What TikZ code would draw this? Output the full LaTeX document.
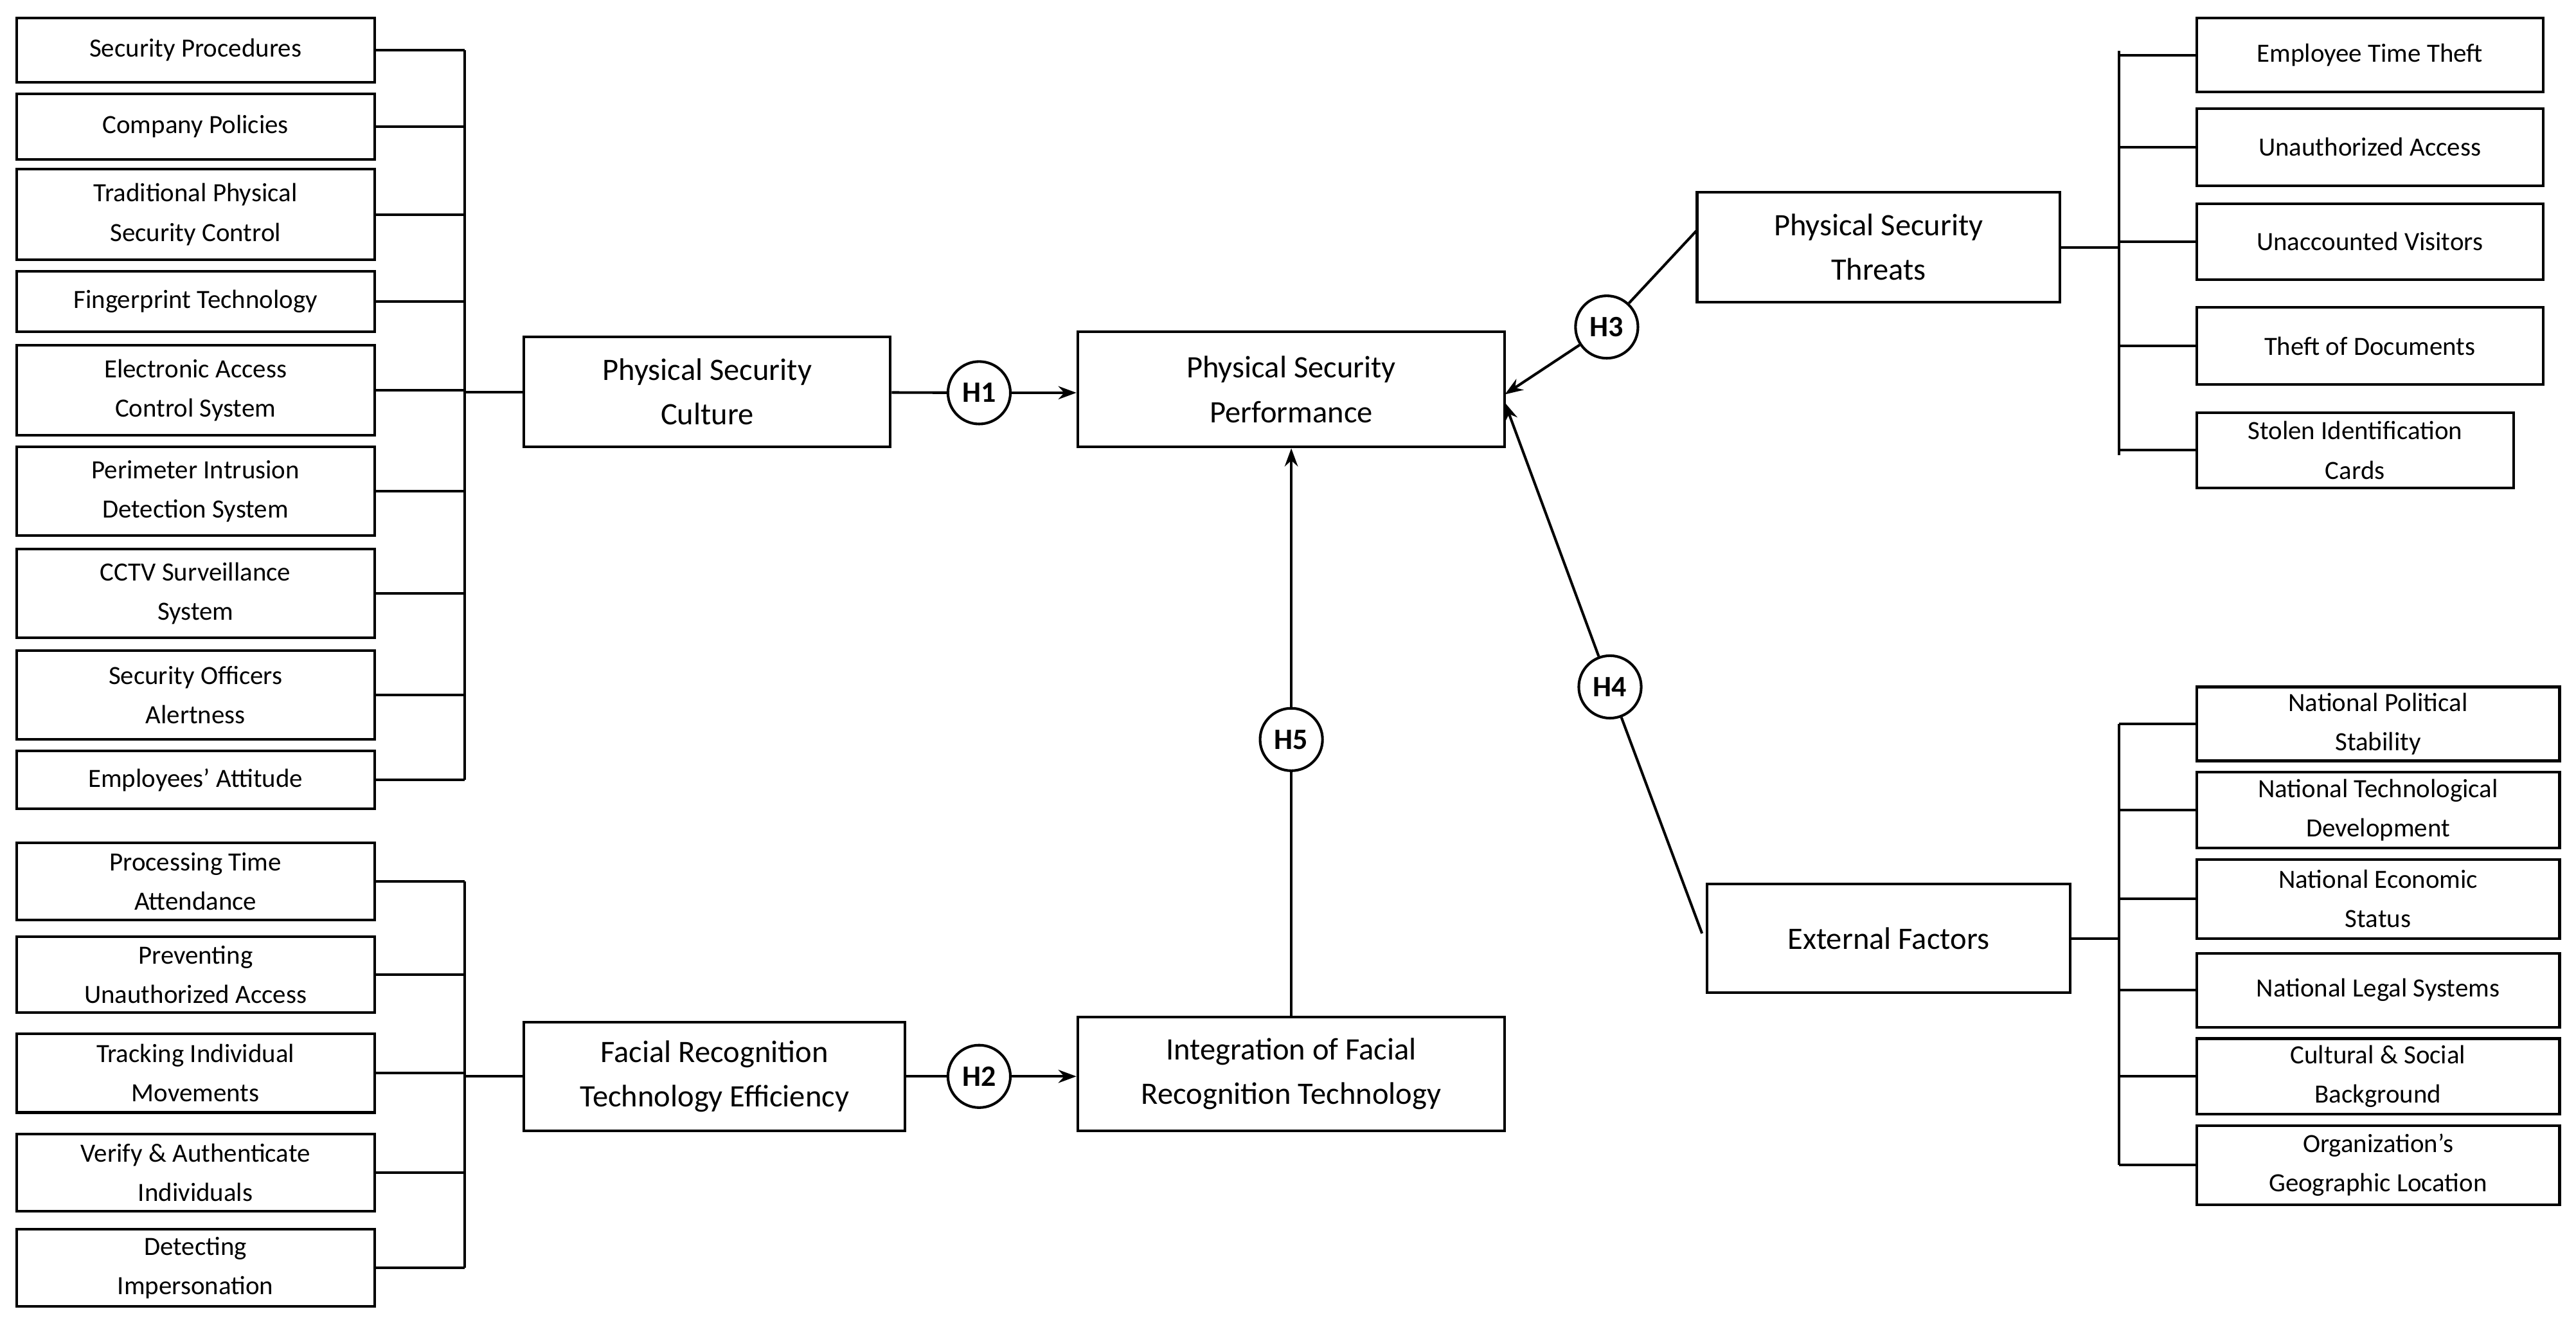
\documentclass[tikz,border=0pt]{standalone}
\usepackage{fontspec}
\setmainfont{Carlito}
\usetikzlibrary{arrows.meta}
\begin{document}
\begin{tikzpicture}[x=1pt,y=-1pt,line width=1.6pt,
  bx/.style={draw,align=center,inner sep=0pt,font=\fontsize{16}{24}\selectfont},
  big/.style={draw,align=center,inner sep=0pt,font=\fontsize{19}{27}\selectfont},
  hc/.style={draw,circle,minimum size=38pt,inner sep=0pt,font=\bfseries\fontsize{18}{20}\selectfont},
  arr/.style={-{Stealth[length=11pt,width=8pt]}}]
\useasboundingbox (0,0) rectangle (1568,806);
\newcommand\bx[7][bx]{\node[#1,minimum width={#5-#3},minimum height={#6-#4}] (#2) at ({(#3+#5)/2},{(#4+#6)/2}) {#7};}
% left top
\bx{a1}{10}{11}{228}{50}{Security Procedures}
\bx{a2}{10}{57}{228}{97}{Company Policies}
\bx{a3}{10}{103}{228}{158}{Traditional Physical\\Security Control}
\bx{a4}{10}{165}{228}{202}{Fingerprint Technology}
\bx{a5}{10}{210}{228}{265}{Electronic Access\\Control System}
\bx{a6}{10}{272}{228}{326}{Perimeter Intrusion\\Detection System}
\bx{a7}{10}{334}{228}{388}{CCTV Surveillance\\System}
\bx{a8}{10}{396}{228}{450}{Security Officers\\Alertness}
\bx{a9}{10}{457}{228}{492}{Employees’ Attitude}
\coordinate (ta) at (283,30.5);\coordinate (ba) at (283,474.5);
\draw (ta)--(ba);
\foreach \i in {1,...,9}{\draw (a\i.east)--(a\i.east -| ta);}
% left bottom
\bx{b1}{10}{513}{228}{560}{Processing Time\\Attendance}
\bx{b2}{10}{570}{228}{616}{Preventing\\Unauthorized Access}
\bx{b3}{10}{629}{228}{677}{Tracking Individual\\Movements}
\bx{b4}{10}{690}{228}{737}{Verify \& Authenticate\\Individuals}
\bx{b5}{10}{748}{228}{795}{Detecting\\Impersonation}
\coordinate (tb) at (283,536.5);\coordinate (bb) at (283,771.5);
\draw (tb)--(bb);
\foreach \i in {1,...,5}{\draw (b\i.east)--(b\i.east -| tb);}
% center
\bx[big]{psc}{319}{205}{542}{272}{Physical Security\\Culture}
\bx[big]{psp}{656}{202}{916}{272}{Physical Security\\Performance}
\bx[big]{fre}{319}{622}{551}{688}{Facial Recognition\\Technology  Efficiency}
\bx[big]{ifr}{656}{619}{916}{688}{Integration of Facial\\Recognition Technology}
\bx[big]{pst}{1033}{117}{1254}{184}{Physical Security\\Threats}
\bx[big]{ef}{1039}{538}{1260}{604}{External Factors}
\draw (psc.west -| ta)--(psc.west);
\draw (fre.west -| tb)--(fre.west);
\node[hc] (h1) at (596,239) {H1};
\node[hc] (h2) at (596,655) {H2};
\node[hc] (h5) at (786,450) {H5};
\node[hc] (h3) at (978,199) {H3};
\node[hc] (h4) at (980,418) {H4};
\coordinate (pspr) at (916,240);
\coordinate (pspr2) at (916,245);
\draw (psc)--(h1); \draw[arr] (h1)--(psp.west |- h1);
\draw (fre)--(h2); \draw[arr] (h2)--(ifr.west |- h2);
\draw (ifr.north)--(h5); \draw[arr] (h5)--(psp.south);
\coordinate (pstw) at (1033,140);
\draw (pstw)--(h3); \draw[arr] (h3)--(pspr);
\coordinate (efw) at (1036,568);
\draw (efw)--(h4); \draw[arr] (h4)--(pspr2);
% right top
\bx{c1}{1337}{11}{1548}{56}{Employee Time Theft}
\bx{c2}{1337}{66}{1548}{113}{Unauthorized Access}
\bx{c3}{1337}{124}{1548}{170}{Unaccounted Visitors}
\bx{c4}{1337}{187}{1548}{234}{Theft of Documents}
\bx{c5}{1337}{251}{1530}{297}{Stolen Identification\\Cards}
\coordinate (tc) at (1290,31);\coordinate (bc) at (1290,277);
\draw (tc)--(bc);
\foreach \i in {1,...,5}{\draw (c\i.west)--(c\i.west -| tc);}
\draw (pst.east)--(pst.east -| tc);
% right bottom
\bx{d1}{1337}{418}{1558}{463}{National Political\\Stability}
\bx{d2}{1337}{470}{1558}{516}{National Technological\\Development}
\bx{d3}{1337}{523}{1558}{571}{National Economic\\Status}
\bx{d4}{1337}{580}{1558}{625}{National Legal Systems}
\bx{d5}{1337}{632}{1558}{678}{Cultural \& Social\\Background}
\bx{d6}{1337}{685}{1558}{733}{Organization’s\\Geographic Location}
\coordinate (td) at (1290,440.5);\coordinate (bd) at (1290,709);
\draw (td)--(bd);
\foreach \i in {1,...,6}{\draw (d\i.west)--(d\i.west -| td);}
\draw (ef.east)--(ef.east -| td);
\end{tikzpicture}
\end{document}
